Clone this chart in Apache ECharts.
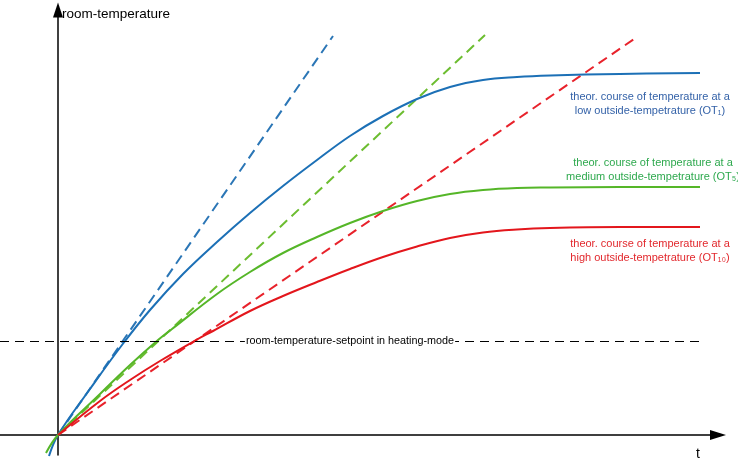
<!DOCTYPE html>
<html>
<head>
<meta charset="utf-8">
<script src="https://cdn.jsdelivr.net/npm/echarts@6/dist/echarts.min.js"></script>
<style>
html,body{margin:0;padding:0;background:#fff;}
#chart{width:738px;height:463px;}
</style>
</head>
<body>
<div id="chart"></div>
<script>
// time (t) and room-temperature readings, origin at axis crossing
const lowT      = [-9, 0, 32, 64, 92, 125, 159, 192, 225, 259, 292, 325, 359, 392, 425, 459, 492, 562, 642];
const lowTemp   = [-21, 0, 46, 90, 125, 161, 193, 222, 249, 275, 299, 319, 336, 348, 355, 358, 359.5, 361, 362];
const midT      = [-12, 0, 42, 72, 100, 114, 159, 192, 225, 259, 292, 325, 359, 392, 425, 459, 492, 562, 642];
const midTemp   = [-18, 0, 41, 70, 95, 106, 141, 163, 182, 198, 212, 224, 234, 241, 245, 247, 247.5, 248, 248];
const highT     = [0, 42, 72, 102, 139, 155, 192, 225, 259, 292, 325, 359, 392, 425, 459, 492, 562, 642];
const highTemp  = [0, 34, 55, 74, 95.5, 104, 124, 139, 153, 166, 178, 188.5, 197, 202.5, 205.5, 207, 208, 208];

// theoretical (tangent) courses
const lowTanT = [0, 275],  lowTanTemp = [0, 399];
const midTanT = [0, 427],  midTanTemp = [0, 400];
const highTanT = [0, 579], highTanTemp = [0, 398];

// setpoint
const setpointT = [-58, 642];
const setpointTemp = 94;

const labels = {
  low: 'theor. course of temperature at a\nlow outside-tempetrature (OT\u2081)',
  mid: 'theor. course of temperature at a\nmedium outside-tempetrature (OT\u2085)',
  high: 'theor. course of temperature at a\nhigh outside-tempetrature (OT\u2081\u2080)',
  yName: 'room-temperature',
  xName: 't',
  setpoint: 'room-temperature-setpoint in heating-mode'
};

const zip = (a, b) => a.map((v, i) => [v, b[i]]);
const FONT = '"Liberation Sans", Arial, sans-serif';

const chart = echarts.init(document.getElementById('chart'), null, {renderer: 'canvas'});

function curve(x, y, color) {
  return {
    type: 'line', data: zip(x, y), showSymbol: false, symbol: 'none',
    smooth: 0.4, clip: false, silent: true,
    lineStyle: {color: color, width: 2}, z: 3
  };
}
function tangent(x, y, color) {
  return {
    type: 'line', data: zip(x, y), showSymbol: false, symbol: 'none', clip: false, silent: true,
    lineStyle: {color: color, width: 2, type: [10, 6]}, z: 2
  };
}

chart.setOption({
  animation: false,
  backgroundColor: '#fff',
  grid: {left: 0, right: 20, top: 10, bottom: 8},
  xAxis: {
    type: 'value', min: -58, max: 660,
    axisLine: {onZero: true, lineStyle: {color: '#000', width: 1.5}, symbol: ['none', 'triangle'], symbolSize: [10, 16]},
    axisTick: {show: false}, axisLabel: {show: false}, splitLine: {show: false}
  },
  yAxis: {
    type: 'value', min: -20, max: 425,
    axisLine: {onZero: true, lineStyle: {color: '#000', width: 1.5}, symbol: ['none', 'triangle'], symbolSize: [10, 15]},
    axisTick: {show: false}, axisLabel: {show: false}, splitLine: {show: false}
  },
  series: [
    {
      type: 'line', data: [], silent: true,
      markLine: {
        silent: true, symbol: ['none', 'none'], animation: false,
        lineStyle: {color: '#000', width: 1, type: [9, 6]},
        label: {
          show: true, position: 'insideMiddle', formatter: labels.setpoint,
          color: '#000', fontSize: 10.8, fontFamily: FONT,
          backgroundColor: '#fff', padding: [2, 1]
        },
        data: [[{coord: [setpointT[0], setpointTemp]}, {coord: [setpointT[1], setpointTemp]}]]
      }
    },
    tangent(lowTanT, lowTanTemp, '#2b76b6'),
    tangent(midTanT, midTanTemp, '#6cbd30'),
    tangent(highTanT, highTanTemp, '#e8222b'),
    curve(lowT, lowTemp, '#1c70b6'),
    curve(midT, midTemp, '#55b628'),
    curve(highT, highTemp, '#e3161c')
  ],
  graphic: [
    {type: 'text', x: 62, y: 14, style: {text: labels.yName, fill: '#000', font: '13.5px ' + FONT, align: 'left', verticalAlign: 'middle'}},
    {type: 'text', x: 698, y: 454, style: {text: labels.xName, fill: '#000', font: '14px ' + FONT, align: 'center', verticalAlign: 'middle'}},
    {type: 'text', x: 650, y: 104, style: {text: labels.low, fill: '#3462a8', font: '11px ' + FONT, align: 'center', verticalAlign: 'middle', lineHeight: 14}},
    {type: 'text', x: 653, y: 170, style: {text: labels.mid, fill: '#2ea94e', font: '11px ' + FONT, align: 'center', verticalAlign: 'middle', lineHeight: 14}},
    {type: 'text', x: 650, y: 251, style: {text: labels.high, fill: '#e2282d', font: '11px ' + FONT, align: 'center', verticalAlign: 'middle', lineHeight: 14}}
  ]
});
</script>
</body>
</html>
